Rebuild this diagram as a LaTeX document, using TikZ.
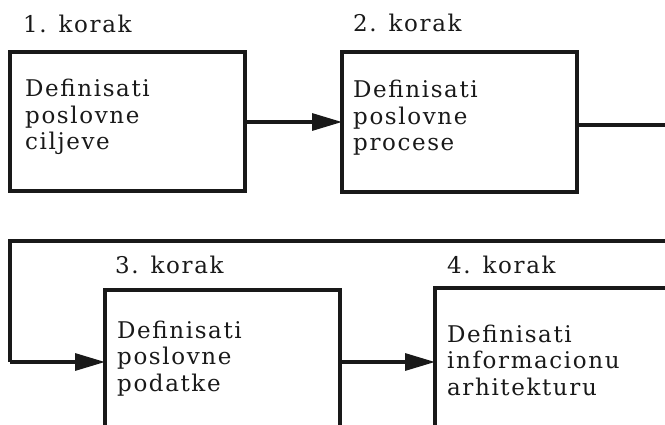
\documentclass[tikz,border=0pt]{standalone}
\usepackage{fontspec}
\setmainfont{DejaVu Serif}[LetterSpace=7]
\usetikzlibrary{arrows.meta}
\begin{document}
\begin{tikzpicture}[x=1pt,y=-1pt,
  stepbox/.style={draw=black!90, line width=3.2pt, inner sep=0pt, outer sep=0pt, anchor=north west, rectangle},
  steptext/.style={anchor=base west, inner sep=0pt, align=left, text width=220pt, font=\fontsize{23}{26.5}\selectfont, text=black!90},
  steplabel/.style={anchor=base west, inner sep=0pt, font=\fontsize{23}{26}\selectfont, text=black!90},
  conn/.style={draw=black!90, line width=3.2pt, -{Triangle[length=30pt,width=17pt]}},
  plain/.style={draw=black!90, line width=3.2pt}]
\useasboundingbox (0,0) rectangle (665,425);
\clip (0,0) rectangle (665,425);
\node[stepbox, minimum width=235pt, minimum height=139pt] (b1) at (10,52) {};
\node[stepbox, minimum width=235pt, minimum height=140pt] (b2) at (342,52) {};
\node[stepbox, minimum width=235pt, minimum height=200pt] (b3) at (105,290) {};
\node[stepbox, minimum width=300pt, minimum height=200pt] (b4) at (435,288) {};
\node[steplabel] (l1) at (23,33) {1. korak};
\node[steplabel] (l2) at (353,32) {2. korak};
\node[steplabel] (l3) at (115,273) {3. korak};
\node[steplabel] (l4) at (447,273) {4. korak};
\node[steptext] (t1) at (25,97) {Definisati\\poslovne\\ciljeve};
\node[steptext] (t2) at (353,98) {Definisati\\poslovne\\procese};
\node[steptext] (t3) at (117,338) {Definisati\\poslovne\\podatke};
\node[steptext] (t4) at (447,342) {Definisati\\informacionu\\arhitekturu};
\coordinate (r1) at (700,125);
\coordinate (r2) at (700,241);
\coordinate (r3) at (10,241);
\coordinate (r4) at (10,362);
\draw[conn] (b1.east |- 0,122) -- (b2.west |- 0,122);
\draw[plain] (b2.east |- r1) -- (r1) -- (r2) -- (r3) -- (r4);
\draw[conn] (r4) -- (b3.west |- r4);
\draw[conn] (b3.east |- r4) -- (b4.west |- r4);
\end{tikzpicture}
\end{document}
